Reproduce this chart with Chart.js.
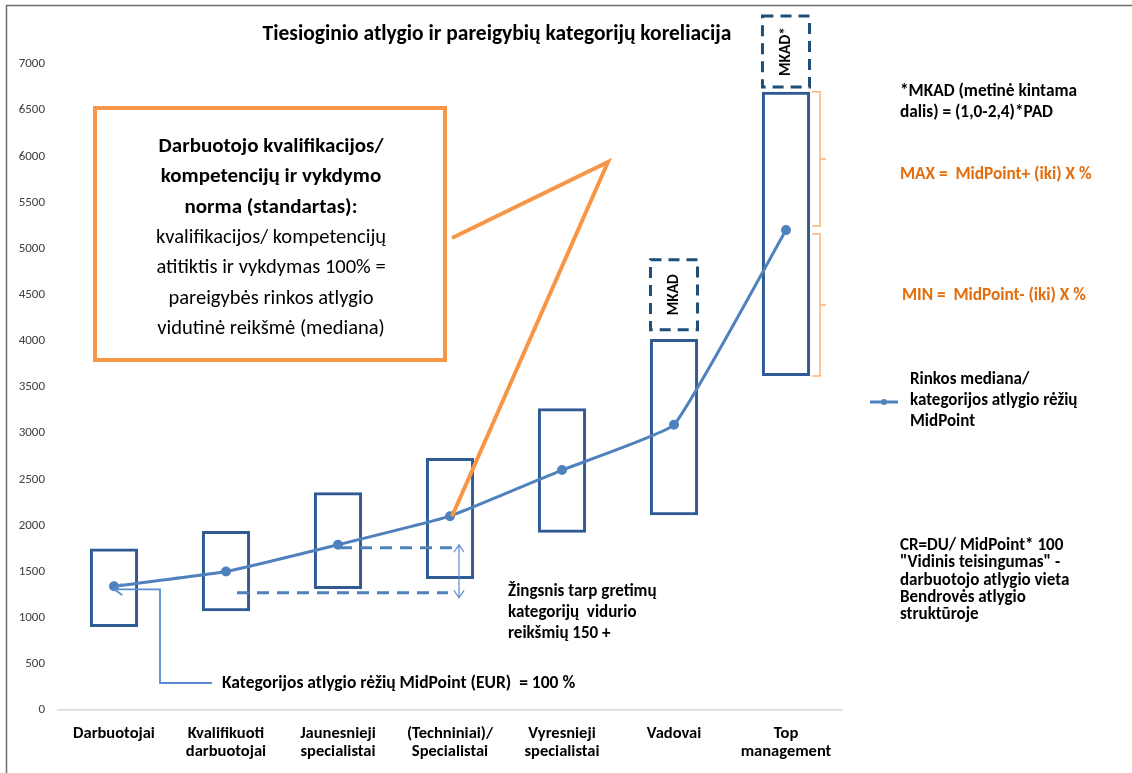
<!DOCTYPE html>
<html lang="lt">

<head>
    <meta charset="UTF-8">
    <title>Tiesioginio atlygio ir pareigybių kategorijų koreliacija</title>
    <script src="https://cdn.jsdelivr.net/npm/chart.js"></script>
</head>

<style>
    body {
        margin: 0;
        padding: 0;
        background-color: #FFF;
        overflow: hidden;
    }

    .grafico {
        width: 1132px;
        height: 773px;
        position: relative;
    }
</style>

<body>
    <div class="grafico">
        <canvas id="myChart"></canvas>
    </div>
</body>

</html>

<script>
    // categories and values
    const categories = [
        ['Darbuotojai'],
        ['Kvalifikuoti', 'darbuotojai'],
        ['Jaunesnieji', 'specialistai'],
        ['(Techniniai)/', 'Specialistai'],
        ['Vyresnieji', 'specialistai'],
        ['Vadovai'],
        ['Top', 'management']
    ];
    const rangeMin = [900, 1070, 1310, 1420, 1920, 2110, 3620];
    const rangeMax = [1750, 1940, 2360, 2730, 3270, 4020, 6700];
    const midPoint = [1340, 1500, 1790, 2100, 2600, 3090, 5200];
    const mkadMin = [null, null, null, null, null, 4120, 6750];
    const mkadMax = [null, null, null, null, null, 4880, 7520];
    const mkadLabels = ['', '', '', '', '', 'MKAD', 'MKAD*'];
    const stepLow = 1270;
    const yMax = 7000;
    const yStep = 500;

    const FONT = 'Carlito, Calibri, Lato, sans-serif';
    const BLUE = '#4F81BD';
    const BOX = '#2F5A94';
    const DARK = '#1F4E79';
    const ORANGE = '#F79646';

    function lines(ctx, arr, x, y, lh) {
        arr.forEach((t, i) => ctx.fillText(t, x, y + i * lh));
    }

    function arrowHead(ctx, x, y, dx, dy, size) {
        // open arrow head pointing in direction (dx, dy)
        const a = Math.atan2(dy, dx);
        ctx.beginPath();
        ctx.moveTo(x - size * Math.cos(a - 0.6), y - size * Math.sin(a - 0.6));
        ctx.lineTo(x, y);
        ctx.lineTo(x - size * Math.cos(a + 0.6), y - size * Math.sin(a + 0.6));
        ctx.stroke();
    }

    const overlay = {
        id: 'overlay',
        afterDatasetsDraw(chart) {
            const ctx = chart.ctx;
            const xs = chart.scales.x;
            const ys = chart.scales.y;
            ctx.save();

            // frame
            ctx.strokeStyle = '#6E6E6E';
            ctx.lineWidth = 1.5;
            ctx.strokeRect(6.5, 5.5, 1300, 1000);

            // title
            ctx.fillStyle = '#000';
            ctx.font = 'bold 21.5px ' + FONT;
            ctx.textAlign = 'center';
            ctx.textBaseline = 'middle';
            ctx.fillText('Tiesioginio atlygio ir pareigybių kategorijų koreliacija', 497, 35);

            // MKAD dashed boxes
            const mk = chart.getDatasetMeta(1);
            mk.data.forEach((el, i) => {
                if (mkadMax[i] == null) return;
                const p = el.getProps(['x', 'y', 'base', 'width'], true);
                ctx.setLineDash([11, 7]);
                ctx.strokeStyle = DARK;
                ctx.lineWidth = 3;
                ctx.strokeRect(p.x - p.width / 2, p.y, p.width, p.base - p.y);
                ctx.setLineDash([]);
                ctx.save();
                ctx.translate(p.x, (p.y + p.base) / 2);
                ctx.rotate(-Math.PI / 2);
                ctx.font = 'bold 15.5px ' + FONT;
                ctx.fillStyle = '#000';
                ctx.fillText(mkadLabels[i], 0, 0);
                ctx.restore();
            });

            // brackets on the top management box
            const box = chart.getDatasetMeta(0).data[6].getProps(['x', 'y', 'base', 'width'], true);
            const bx = box.x + box.width / 2 + 10;
            const midY = ys.getPixelForValue(midPoint[6]);
            ctx.strokeStyle = '#FAB27A';
            ctx.lineWidth = 1.5;
            [[box.y, midY - 4], [midY + 4, box.base]].forEach(([a, b]) => {
                ctx.beginPath();
                ctx.moveTo(bx - 8, a);
                ctx.lineTo(bx, a);
                ctx.lineTo(bx, b);
                ctx.lineTo(bx - 8, b);
                ctx.moveTo(bx, (a + b) / 2);
                ctx.lineTo(bx + 6, (a + b) / 2);
                ctx.stroke();
            });

            // callout box
            ctx.strokeStyle = ORANGE;
            ctx.lineWidth = 4;
            ctx.strokeRect(95, 108, 350, 252);
            const sx = xs.getPixelForValue(3);
            const sy = ys.getPixelForValue(midPoint[3]);
            ctx.beginPath();
            ctx.moveTo(452, 238);
            ctx.lineTo(608, 162);
            ctx.lineTo(sx + 2, sy);
            ctx.stroke();

            ctx.fillStyle = '#000';
            ctx.textAlign = 'center';
            ctx.font = 'bold 21px ' + FONT;
            lines(ctx, ['Darbuotojo kvalifikacijos/', 'kompetencijų ir vykdymo', 'norma (standartas):'], 271, 147, 30.2);
            ctx.font = '20.5px ' + FONT;
            lines(ctx, ['kvalifikacijos/ kompetencijų', 'atitiktis ir vykdymas 100% =', 'pareigybės rinkos atlygio', 'vidutinė reikšmė (mediana)'], 271, 238, 30.2);

            // step dashed lines + double arrow
            const jx = xs.getPixelForValue(2);
            const jy = ys.getPixelForValue(midPoint[2]);
            const ly = ys.getPixelForValue(stepLow);
            ctx.strokeStyle = BLUE;
            ctx.lineWidth = 3;
            ctx.setLineDash([12, 8]);
            ctx.beginPath();
            ctx.moveTo(jx + 2, jy + 3);
            ctx.lineTo(sx + 2, jy + 3);
            ctx.moveTo(xs.getPixelForValue(1) + 11, ly);
            ctx.lineTo(sx - 2, ly);
            ctx.stroke();
            ctx.setLineDash([]);
            ctx.lineWidth = 1.2;
            ctx.strokeStyle = '#5B8BD0';
            const ax = sx + 9;
            ctx.beginPath();
            ctx.moveTo(ax, jy);
            ctx.lineTo(ax, ly + 5);
            ctx.stroke();
            arrowHead(ctx, ax, jy, 0, -1, 9);
            arrowHead(ctx, ax, ly + 5, 0, 1, 9);

            // MidPoint connector
            const dx = xs.getPixelForValue(0);
            const dy = ys.getPixelForValue(midPoint[0]) + 3;
            ctx.lineWidth = 1.8;
            ctx.beginPath();
            ctx.moveTo(dx, dy);
            ctx.lineTo(dx + 46, dy);
            ctx.lineTo(dx + 46, 683);
            ctx.lineTo(dx + 98, 683);
            ctx.stroke();
            arrowHead(ctx, dx, dy, -1, 0, 10);

            ctx.fillStyle = '#000';
            ctx.textAlign = 'left';
            ctx.font = 'bold 17.5px ' + FONT;
            ctx.fillText('Kategorijos atlygio rėžių MidPoint (EUR)  = 100 %', 222, 684);
            ctx.font = 'bold 17px ' + FONT;
            lines(ctx, ['Žingsnis tarp gretimų', 'kategorijų  vidurio', 'reikšmių 150 +'], 508, 592, 21);

            // right side notes
            ctx.font = 'bold 17.3px ' + FONT;
            lines(ctx, ['*MKAD (metinė kintama', 'dalis) = (1,0-2,4)*PAD'], 900, 92, 21);
            ctx.fillStyle = '#E46C0A';
            ctx.fillText('MAX =  MidPoint+ (iki) X %', 900, 175);
            ctx.fillText('MIN =  MidPoint- (iki) X %', 902, 296);

            // legend
            ctx.strokeStyle = BLUE;
            ctx.lineWidth = 3;
            ctx.beginPath();
            ctx.moveTo(870, 402);
            ctx.lineTo(898, 402);
            ctx.stroke();
            ctx.fillStyle = BLUE;
            ctx.beginPath();
            ctx.arc(884, 402, 3, 0, Math.PI * 2);
            ctx.fill();
            ctx.fillStyle = '#000';
            ctx.font = 'bold 17px ' + FONT;
            lines(ctx, chart.data.datasets[2].label, 910, 380, 21);

            ctx.font = 'bold 17px ' + FONT;
            lines(ctx, ['CR=DU/ MidPoint* 100', '"Vidinis teisingumas" -', 'darbuotojo atlygio vieta', 'Bendrovės atlygio', 'struktūroje'], 900, 546, 17.2);

            ctx.restore();
        }
    };

    const rangeData = rangeMin.map((v, i) => [v, rangeMax[i]]);
    const mkadData = mkadMin.map((v, i) => v == null ? null : [v, mkadMax[i]]);

    const config = {
        type: 'bar',
        data: {
            labels: categories,
            datasets: [{
                label: 'Rėžiai',
                data: rangeData,
                backgroundColor: 'transparent',
                borderColor: BOX,
                borderWidth: 3,
                borderSkipped: false,
                grouped: false,
                barPercentage: 0.43,
                categoryPercentage: 1,
                order: 2
            },
            {
                label: 'MKAD',
                data: mkadData,
                backgroundColor: 'transparent',
                borderWidth: 0,
                grouped: false,
                barPercentage: 0.42,
                categoryPercentage: 1,
                order: 3
            },
            {
                type: 'line',
                label: ['Rinkos mediana/', 'kategorijos atlygio rėžių', 'MidPoint'],
                data: midPoint,
                borderColor: BLUE,
                backgroundColor: BLUE,
                borderWidth: 3,
                pointRadius: 3.5,
                pointHoverRadius: 3.5,
                tension: 0.1,
                order: 1
            }]
        },
        options: {
            responsive: true,
            maintainAspectRatio: false,
            animation: false,
            layout: {
                padding: { top: 64, right: 290, left: 0, bottom: 0 }
            },
            scales: {
                x: {
                    grid: { display: false, drawTicks: false },
                    border: { display: true, color: '#D9D9D9', width: 1.5 },
                    ticks: {
                        color: '#000',
                        padding: 15,
                        maxRotation: 0,
                        font: { family: FONT, size: 16.5, weight: 'bold', lineHeight: 1.1 }
                    },
                    afterFit: function (s) { s.height = 63; }
                },
                y: {
                    min: 0,
                    max: yMax,
                    grid: { display: false, drawTicks: false },
                    border: { display: false },
                    ticks: {
                        stepSize: yStep,
                        color: '#404040',
                        padding: 13,
                        font: { family: FONT, size: 13 },
                        callback: function (v) { return String(v); }
                    },
                    afterFit: function (s) { s.width = 58; }
                }
            },
            plugins: {
                legend: { display: false },
                tooltip: { enabled: false },
                title: { display: false }
            }
        },
        plugins: [overlay]
    };

    let myChart = new Chart(document.getElementById('myChart'), config);
</script>
